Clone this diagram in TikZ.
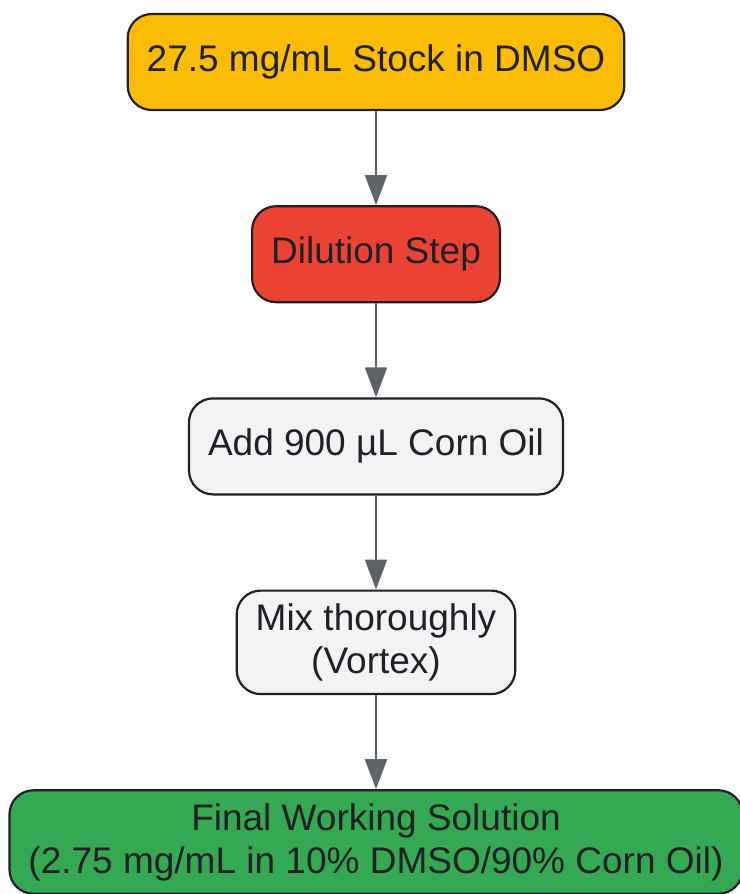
\documentclass[tikz,border=0pt]{standalone}
\usepackage{fontspec}
\setmainfont{Liberation Sans}
\usetikzlibrary{arrows.meta,positioning}
\definecolor{ink}{HTML}{202124}
\definecolor{arrowgray}{HTML}{5F6368}
\definecolor{stockfill}{HTML}{FBBC05}
\definecolor{dilfill}{HTML}{EA4335}
\definecolor{stepfill}{HTML}{F1F3F4}
\definecolor{finalfill}{HTML}{34A853}

\begin{document}
\begin{tikzpicture}[x=1pt,y=1pt,node distance=94pt,
  box/.style={draw=ink,line width=2.2pt,rounded corners=24pt,inner xsep=19pt,
    inner ysep=13pt,minimum height=96pt,align=center,text=ink,
    font=\fontsize{37}{43}\selectfont},
  every edge/.style={draw=arrowgray,line width=2pt},
  >={Triangle[width=22pt,length=30pt]}]
\useasboundingbox (0,0) rectangle (739,-894);
\node[box,fill=stockfill] (stock) at (376,-62) {27.5 mg/mL Stock in DMSO};
\node[box,fill=dilfill]   (dilute) [below=of stock]  {Dilution Step};
\node[box,fill=stepfill]  (oil)    [below=of dilute] {Add 900 µL Corn Oil};
\node[box,fill=stepfill]  (mix)    [below=of oil]    {Mix thoroughly\\(Vortex)};
\node[box,fill=finalfill] (final)  [below=of mix]
  {Final Working Solution\\(2.75 mg/mL in 10\% DMSO/90\% Corn Oil)};
\path[->] (stock)  edge (dilute)
          (dilute) edge (oil)
          (oil)    edge (mix)
          (mix)    edge (final);
\end{tikzpicture}
\end{document}
